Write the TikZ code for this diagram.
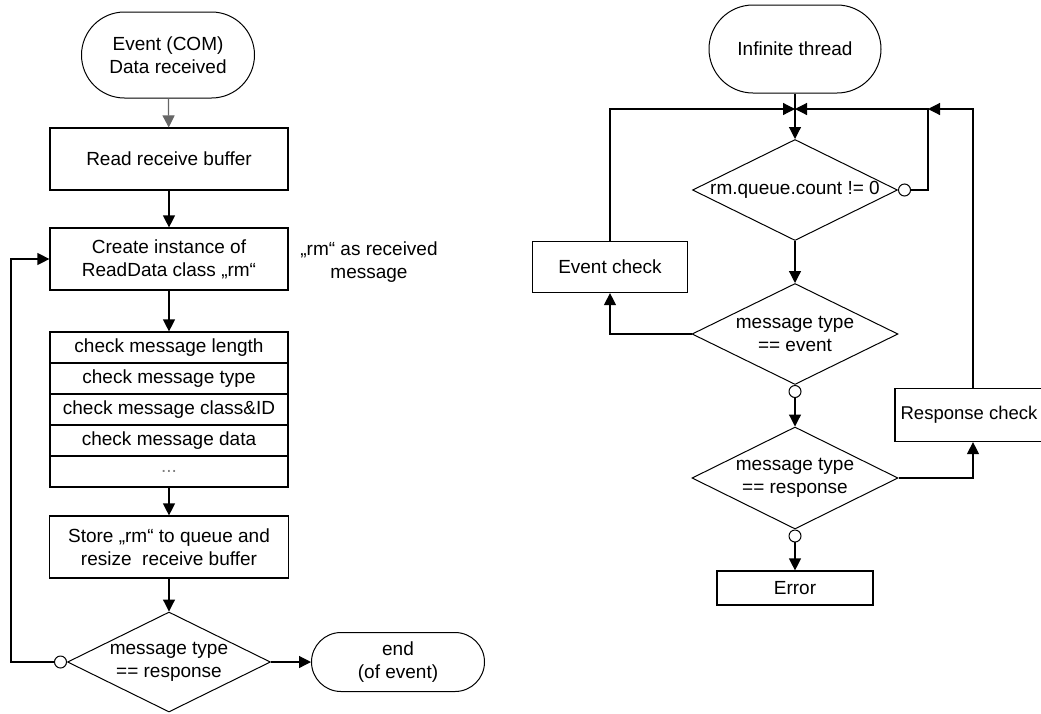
\documentclass[tikz,border=0pt]{standalone}
\usepackage{fontspec}
\setmainfont{Liberation Sans}
\usetikzlibrary{arrows.meta,shapes.geometric,shapes.misc}

\def\xL{169}
\def\xR{795}

\begin{document}
\begin{tikzpicture}[x=1pt, y=-1pt, line width=1.2pt,
    every node/.style={font=\fontsize{19}{23}\selectfont},
    >={Triangle[length=12pt,width=12pt]},
    circ/.style={{Circle[open,length=13pt,width=13pt,line width=1pt]}->},
    box/.style={draw, rectangle, inner sep=0pt, align=center},
    term/.style={draw, rounded rectangle, line width=1pt, inner sep=0pt, align=center},
    decision/.style={draw, diamond, line width=1pt, inner sep=0pt}]
      \useasboundingbox (0,0) rectangle (1041,713);

      \node[term, minimum width=173, minimum height=86] (start) at (168,55) {Event (COM)\\Data received};
      \node[box, minimum width=238, minimum height=62] (read) at (\xL,159) {Read receive buffer};
      \node[box, minimum width=238, minimum height=62] (create) at (\xL,259) {Create instance of\\ReadData class „rm“};
      \node[align=center] (note) at (369,262) {„rm“ as received\\message};
      \foreach \t [count=\i] in {check message length, check message type, {check message class\&ID}, check message data, \textcolor{gray}{...}} {
          \node[box, minimum width=238, minimum height=31] (c\i) at (\xL,{316.5+31*\i}) {\t};
      }
      \node[box, minimum width=239, minimum height=62] (store) at (\xL,547) {Store „rm“ to queue and\\resize\ \ receive buffer};
      \node[decision, minimum width=203, minimum height=100,
            label={[align=center]center:message type\\== response}] (dec) at (\xL,662) {};
      \node[term, minimum width=173, minimum height=59] (stop) at (398,662) {end\\(of event)};

      \draw[->, black!60] (start) -- (read);
      \draw[->] (read) -- (create);
      \draw[->] (create) -- (c1);
      \draw[->] (c5) -- (store);
      \draw[->] (store) -- (dec);
      \draw[->] (dec.east) -- (stop);
      \draw[circ] (dec.west) -- ++(-56,0) |- (create.west);

      \node[term, minimum width=172, minimum height=88] (thread) at (\xR,49) {Infinite thread};
      \node[decision, minimum width=205, minimum height=101,
            label={center:rm.queue.count != 0}] (d1) at (\xR,190) {};
      \node[decision, minimum width=206, minimum height=101,
            label={[align=center]center:message type\\== event}] (d2) at (\xR,334) {};
      \node[decision, minimum width=206, minimum height=102,
            label={[align=center]center:message type\\== response}] (d3) at (\xR,478) {};
      \node[box, minimum width=155, minimum height=51] (evt) at (610,267) {Event check};
      \node[box, minimum width=156, minimum height=53, font=\fontsize{18.5}{22}\selectfont] (resp) at (973,415) {\hspace{-8pt}Response check};
      \node[box, minimum width=156, minimum height=34] (err) at (\xR,588) {Error};
      \coordinate (join) at (\xR,109);
      \coordinate (loopc) at (928,109);

      \draw[->] (thread.south) -- (d1.north);
      \draw[->] (evt.north) |- (join);
      \draw[circ] (d1.east) -| (loopc) -- (join);
      \draw[->] (resp.north) |- (loopc);
      \draw[->] (d1.south) -- (d2.north);
      \draw[->] (d2.west) -| (evt.south);
      \draw[circ] (d2.south) -- (d3.north);
      \draw[->] (d3.east) -| (resp.south);
      \draw[circ] (d3.south) -- (err.north);
\end{tikzpicture}
\end{document}
